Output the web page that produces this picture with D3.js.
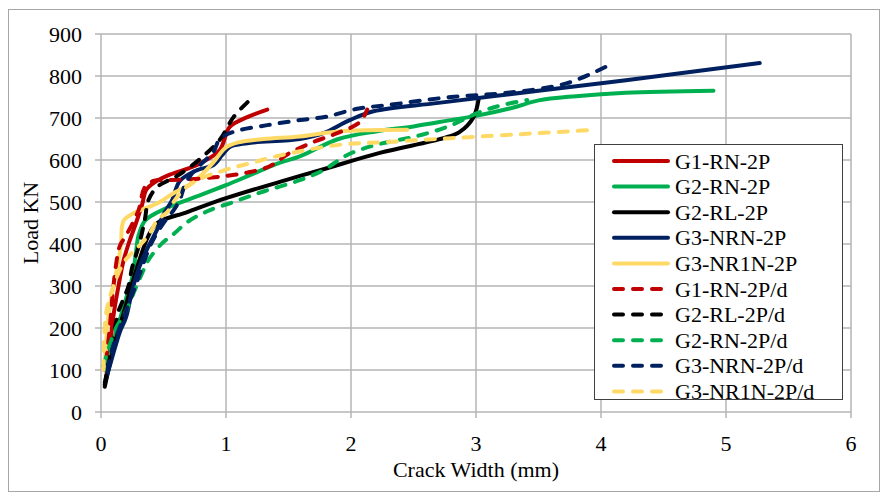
<!DOCTYPE html>
<html>
<head>
<meta charset="utf-8">
<script src="https://cdn.jsdelivr.net/npm/d3@7"></script>
<style>
  body { margin: 0; background: #fff; }
</style>
</head>
<body>
<svg id="chart" width="885" height="492" font-family="'Liberation Serif', 'Times New Roman', 'DejaVu Serif', serif"></svg>
<script>
const width = 885;
const height = 492;
const margin = { top: 34, right: 34, bottom: 80, left: 101 };
const serif = "'Liberation Serif', 'Times New Roman', 'DejaVu Serif', serif";

const seriesNames = ["G1-RN-2P", "G2-RN-2P", "G2-RL-2P", "G3-NRN-2P", "G3-NR1N-2P",
  "G1-RN-2P/d", "G2-RL-2P/d", "G2-RN-2P/d", "G3-NRN-2P/d", "G3-NR1N-2P/d"];
const seriesColors = ["#C00000", "#00B050", "#000000", "#002060", "#FFD966",
  "#C00000", "#000000", "#00B050", "#002060", "#FFD966"];
const seriesDashed = [false, false, false, false, false, true, true, true, true, true];

const xTicks = [0, 1, 2, 3, 4, 5, 6];
const yTicks = [0, 100, 200, 300, 400, 500, 600, 700, 800, 900];

// [crack width mm, load kN]
const g1RN = [[0.04,80],[0.07,150],[0.1,230],[0.14,300],[0.18,360],[0.22,400],[0.28,450],[0.33,495],
  [0.36,528],[0.42,545],[0.55,565],[0.7,580],[0.8,593],[0.95,624],[1.03,679],[1.17,702],[1.33,720]];
const g2RN = [[0.03,100],[0.08,150],[0.15,220],[0.2,270],[0.25,320],[0.28,380],[0.3,420],[0.35,455],
  [0.45,475],[0.6,495],[0.8,517],[1.0,540],[1.2,565],[1.4,590],[1.6,610],[1.9,650],[2.2,668],
  [2.5,680],[2.8,695],[3.0,705],[3.3,725],[3.5,742],[3.8,752],[4.2,760],[4.9,765]];
const g2RL = [[0.03,60],[0.1,150],[0.2,255],[0.3,355],[0.38,420],[0.45,450],[0.69,476],[1.0,509],
  [1.43,548],[1.78,578],[2.23,617],[2.74,652],[2.87,667],[2.98,702],[3.02,743]];
const g3NRN = [[0.03,70],[0.08,120],[0.15,190],[0.2,225],[0.25,290],[0.3,340],[0.38,395],[0.45,435],
  [0.5,470],[0.57,505],[0.63,550],[0.77,576],[0.9,588],[0.97,612],[1.03,631],[1.17,640],[1.59,650],
  [1.78,664],[1.99,695],[2.18,716],[2.7,736],[3.5,765],[4.2,790],[5.27,831]];
const g3NR1N = [[0.03,110],[0.05,200],[0.07,250],[0.1,300],[0.14,360],[0.16,400],[0.18,455],[0.26,473],
  [0.4,490],[0.47,500],[0.58,521],[0.7,540],[0.79,560],[0.9,595],[1.0,630],[1.1,642],[1.3,650],
  [1.59,656],[1.9,668],[2.45,672]];
const g1RNd = [[0.04,120],[0.07,200],[0.09,270],[0.12,350],[0.15,395],[0.2,420],[0.3,480],[0.35,535],
  [0.42,550],[0.55,552],[0.8,556],[1.0,562],[1.17,570],[1.35,585],[1.5,615],[1.7,643],[1.9,665],
  [2.07,690],[2.13,720]];
const g2RLd = [[0.03,65],[0.06,120],[0.1,180],[0.14,240],[0.17,262],[0.22,300],[0.25,345],[0.3,393],
  [0.35,457],[0.38,505],[0.45,536],[0.55,553],[0.63,566],[0.79,602],[0.95,648],[1.06,702],[1.18,740]];
const g2RNd = [[0.02,110],[0.06,150],[0.12,200],[0.2,240],[0.27,290],[0.33,331],[0.38,362],[0.49,402],
  [0.59,426],[0.69,452],[0.85,478],[1.06,500],[1.3,525],[1.59,552],[1.78,576],[1.97,612],[2.2,636],
  [2.5,655],[2.77,679],[3.03,714],[3.2,730],[3.41,743]];
const g3NRNd = [[0.05,100],[0.1,160],[0.2,240],[0.3,320],[0.4,400],[0.5,450],[0.58,480],[0.63,505],
  [0.67,540],[0.72,565],[0.8,590],[0.9,620],[0.95,650],[1.06,667],[1.33,683],[1.59,695],[1.8,703],
  [2.05,722],[2.3,731],[2.8,750],[3.25,760],[3.73,783],[4.1,831]];
const g3NR1Nd = [[0.02,100],[0.03,200],[0.05,250],[0.1,300],[0.18,355],[0.25,380],[0.32,400],[0.4,430],
  [0.45,457],[0.53,476],[0.58,500],[0.66,529],[0.77,552],[0.98,575],[1.2,593],[1.45,612],[1.9,636],
  [2.3,643],[2.8,652],[3.5,664],[3.91,671]];

const seriesData = [g1RN, g2RN, g2RL, g3NRN, g3NR1N, g1RNd, g2RLd, g2RNd, g3NRNd, g3NR1Nd];

const svg = d3.select("#chart");

// outer chart border
svg.append("rect")
  .attr("x", 8.5).attr("y", 9.5)
  .attr("width", 871).attr("height", 482)
  .attr("fill", "none").attr("stroke", "#A6A6A6").attr("stroke-width", 1);

const x = d3.scaleLinear().domain([0, 6]).range([margin.left, width - margin.right]);
const y = d3.scaleLinear().domain([0, 900]).range([height - margin.bottom, margin.top]);

// gridlines
svg.append("g").selectAll("line.h").data(yTicks).enter().append("line")
  .attr("x1", x(0) - 6).attr("x2", x(6))
  .attr("y1", (d) => y(d)).attr("y2", (d) => y(d))
  .attr("stroke", "#B4B4B4").attr("stroke-width", 1.5);
svg.append("g").selectAll("line.v").data(xTicks).enter().append("line")
  .attr("x1", (d) => x(d)).attr("x2", (d) => x(d))
  .attr("y1", y(900)).attr("y2", y(0) + 6)
  .attr("stroke", "#B4B4B4").attr("stroke-width", 1.5);

// tick labels
svg.append("g").selectAll("text").data(yTicks).enter().append("text")
  .attr("x", x(0) - 19).attr("y", (d) => y(d) + 8)
  .attr("text-anchor", "end").attr("font-size", 22).attr("font-family", serif)
  .text((d) => d);
svg.append("g").selectAll("text").data(xTicks).enter().append("text")
  .attr("x", (d) => x(d)).attr("y", y(0) + 39)
  .attr("text-anchor", "middle").attr("font-size", 22).attr("font-family", serif)
  .text((d) => d);

// axis titles
svg.append("text")
  .attr("transform", `translate(38, ${(y(0) + y(900)) / 2}) rotate(-90)`)
  .attr("text-anchor", "middle").attr("font-size", 22).attr("font-family", serif)
  .text("Load KN");
svg.append("text")
  .attr("x", (x(0) + x(6)) / 2).attr("y", 477)
  .attr("text-anchor", "middle").attr("font-size", 22).attr("font-family", serif)
  .text("Crack Width (mm)");

// curves
const line = d3.line()
  .x((d) => x(d[0]))
  .y((d) => y(d[1]))
  .curve(d3.curveCatmullRom.alpha(0.5));

svg.append("g").selectAll("path").data(seriesData).enter().append("path")
  .attr("d", (d) => line(d))
  .attr("fill", "none")
  .attr("stroke", (d, i) => seriesColors[i])
  .attr("stroke-width", 4)
  .attr("stroke-linecap", "round")
  .attr("stroke-linejoin", "round")
  .attr("stroke-dasharray", (d, i) => (seriesDashed[i] ? "9,10" : null));

// legend
const legend = svg.append("g");
legend.append("rect")
  .attr("x", 594.5).attr("y", 144.5).attr("width", 248).attr("height", 255)
  .attr("fill", "#fff").attr("stroke", "#404040").attr("stroke-width", 1);

const rows = legend.selectAll("g").data(seriesNames).enter().append("g")
  .attr("transform", (d, i) => `translate(0, ${161 + i * 25.6})`);
rows.append("line")
  .attr("x1", 614).attr("x2", (d, i) => (seriesDashed[i] ? 663 : 668))
  .attr("y1", 0).attr("y2", 0)
  .attr("stroke", (d, i) => seriesColors[i])
  .attr("stroke-width", 4)
  .attr("stroke-linecap", "round")
  .attr("stroke-dasharray", (d, i) => (seriesDashed[i] ? "9,10" : null));
rows.append("text")
  .attr("x", 675).attr("y", 7.5)
  .attr("font-size", 22).attr("font-family", serif)
  .text((d) => d);
</script>
</body>
</html>
